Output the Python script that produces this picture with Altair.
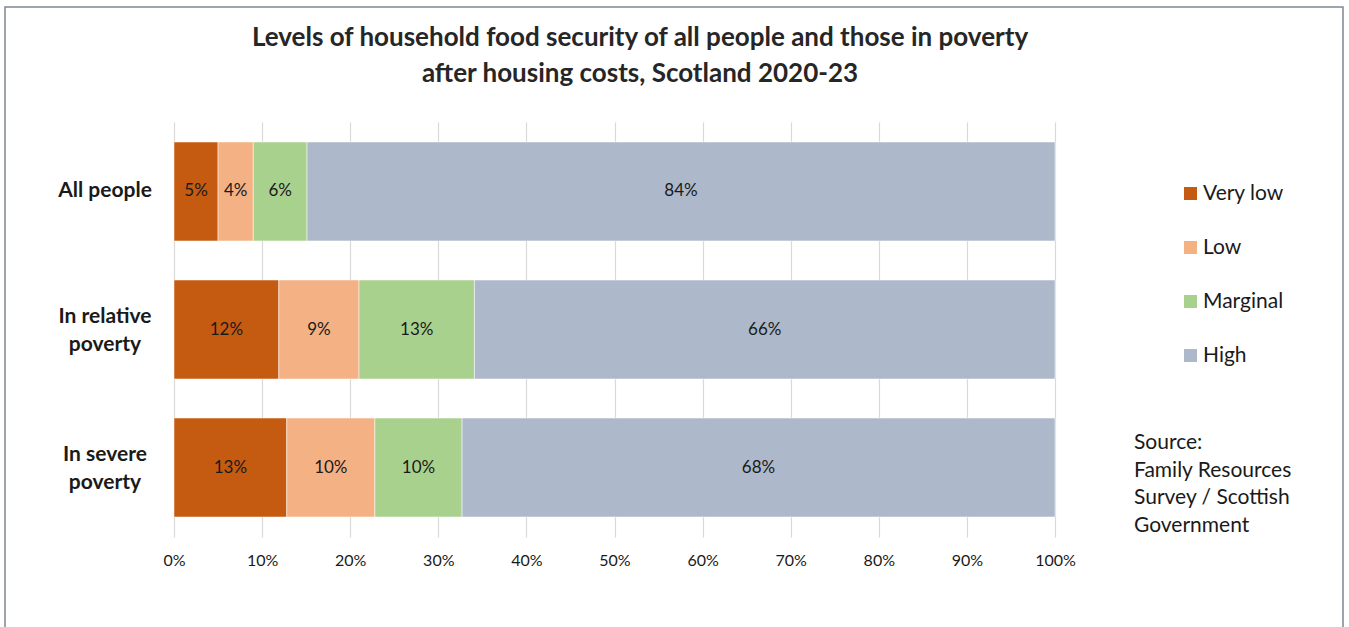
import altair as alt
import pandas as pd

groups = ["All people", "In relative poverty", "In severe poverty"]
group_labels = ["All people", "In relative\npoverty", "In severe\npoverty"]
levels = ["Very low", "Low", "Marginal", "High"]
colors = ["#C55A11", "#F4B183", "#A9D18E", "#ADB9CA"]

very_low = [5.0, 11.9, 12.8]
low = [4.0, 9.1, 10.0]
marginal = [6.1, 13.1, 9.9]
high = [84.9, 65.9, 67.3]

very_low_lbl = ["5%", "12%", "13%"]
low_lbl = ["4%", "9%", "10%"]
marginal_lbl = ["6%", "13%", "10%"]
high_lbl = ["84%", "66%", "68%"]

title_lines = ["Levels of household food security of all people and those in poverty",
               "after housing costs, Scotland 2020-23"]
source_lines = ["Source:", "Family Resources", "Survey / Scottish", "Government"]
x_ticks = [0, 10, 20, 30, 40, 50, 60, 70, 80, 90, 100]

FONT = "Lato"
TXT = "#1a1a1a"

rows = []
series = [very_low, low, marginal, high]
labels = [very_low_lbl, low_lbl, marginal_lbl, high_lbl]
for gi, g in enumerate(groups):
    start = 0.0
    for li, lev in enumerate(levels):
        v = series[li][gi]
        rows.append({"group": g, "level": lev, "order": li, "start": start,
                     "end": start + v, "mid": start + v / 2, "label": labels[li][gi]})
        start += v
df = pd.DataFrame(rows)

yscale = alt.Scale(domain=groups, paddingInner=0.283, paddingOuter=0.145)
xscale = alt.Scale(domain=[0, 100], nice=False)

bars = alt.Chart(df).mark_bar(stroke="white", strokeWidth=0.5).encode(
    y=alt.Y("group:N", scale=yscale, axis=None, sort=groups),
    x=alt.X("start:Q", scale=xscale,
            axis=alt.Axis(values=x_ticks, labelExpr="datum.value + '%'", title=None,
                          grid=True, gridColor="#D9D9D9", gridWidth=1.2, domain=False,
                          ticks=False, labelFontSize=16, labelFont=FONT, labelColor=TXT,
                          labelPadding=15, labelFlush=False)),
    x2="end:Q",
    color=alt.Color("level:N", scale=alt.Scale(domain=levels, range=colors),
                    legend=alt.Legend(orient="none", legendX=1006, legendY=61, title=None,
                                      symbolType="square", symbolSize=169, symbolStrokeWidth=0,
                                      labelFontSize=21, labelFont=FONT, labelColor=TXT,
                                      rowPadding=32, labelOffset=2)),
    order="order:Q",
)

bar_text = alt.Chart(df).mark_text(fontSize=17, font=FONT, color=TXT).encode(
    y=alt.Y("group:N", scale=yscale, sort=groups),
    x=alt.X("mid:Q", scale=xscale),
    text="label:N",
)

ylab_df = pd.DataFrame({"group": groups, "lab": group_labels,
                        "nlines": [s.count("\n") + 1 for s in group_labels]})


def ylabel_layer(n, dy):
    return alt.Chart(ylab_df).transform_filter(alt.datum.nlines == n).mark_text(
        fontSize=21, font=FONT, fontWeight="bold", color=TXT, align="center",
        baseline="middle", lineBreak="\n", lineHeight=28, dy=dy).encode(
        y=alt.Y("group:N", scale=yscale, sort=groups),
        x=alt.value(-69),
        text="lab:N",
    )


ylabels1 = ylabel_layer(1, 0)
ylabels2 = ylabel_layer(2, -13)

title = alt.Chart(pd.DataFrame({"t": ["\n".join(title_lines)]})).mark_text(
    fontSize=26, font=FONT, fontWeight="bold", color="#262626", align="center",
    baseline="middle", lineBreak="\n", lineHeight=36).encode(
    x=alt.value(466), y=alt.value(-84), text="t:N")

source = alt.Chart(pd.DataFrame({"t": ["\n".join(source_lines)]})).mark_text(
    fontSize=21, font=FONT, color=TXT, align="left",
    baseline="middle", lineBreak="\n", lineHeight=27.7).encode(
    x=alt.value(960), y=alt.value(321), text="t:N")

border = alt.Chart(pd.DataFrame({"a": [0]})).mark_rect(
    fill=None, stroke="#7F8791", strokeWidth=1.5).encode(
    x=alt.value(5 - 174), x2=alt.value(1343 - 174),
    y=alt.value(7 - 122), y2=alt.value(700 - 122))

chart = alt.layer(border, bars, bar_text, ylabels1, ylabels2, title, source).properties(
    width=881, height=415,
    autosize=alt.AutoSizeParams(type="none"),
    padding={"left": 174, "top": 122, "right": 294, "bottom": 90},
    background="white",
).configure_view(stroke=None)

chart.save("out.html", embed_options={"renderer": "svg", "actions": False})
